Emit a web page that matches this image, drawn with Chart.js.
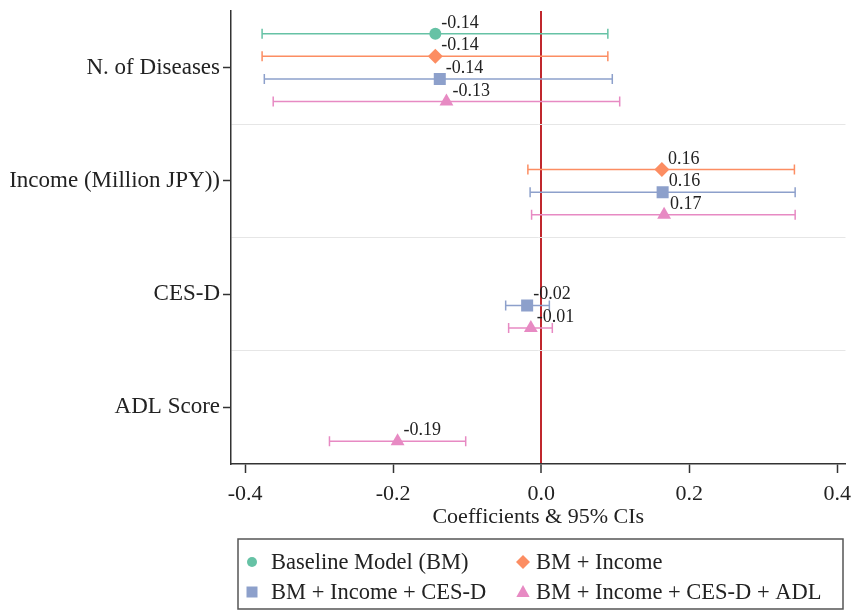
<!DOCTYPE html>
<html>
<head>
<meta charset="utf-8">
<script src="https://cdn.jsdelivr.net/npm/chart.js@4.4.1/dist/chart.umd.min.js"></script>
<style>
  html, body { margin: 0; padding: 0; background: #fff; }
  #wrap { width: 854px; height: 613px; position: relative; }
</style>
</head>
<body>
<div id="wrap"><canvas id="coef-chart"></canvas></div>
<script>
// variables on the y axis (top to bottom)
const variables = ['N. of Diseases', 'Income (Million JPY))', 'CES-D', 'ADL Score'];

// models
const modelNames = ['Baseline Model (BM)', 'BM + Income', 'BM + Income + CES-D', 'BM + Income + CES-D + ADL'];
const modelColors = ['#66c2a5', '#fc8d62', '#8da0cb', '#e78ac3'];
const modelMarkers = ['circle', 'rectRot', 'rect', 'triangle'];
const markerRadius = [6, 7.5, 8.5, 8];

// coefficients per model (null = variable not in model)
const coefBM     = [-0.143, null, null, null];
const coefIncome = [-0.143, 0.163, null, null];
const coefCesd   = [-0.137, 0.164, -0.019, null];
const coefAdl    = [-0.128, 0.166, -0.014, -0.194];

// 95% CI bounds
const lowBM      = [-0.377, null, null, null];
const highBM     = [0.090, null, null, null];
const lowIncome  = [-0.377, -0.018, null, null];
const highIncome = [0.090, 0.342, null, null];
const lowCesd    = [-0.374, -0.015, -0.048, null];
const highCesd   = [0.096, 0.343, 0.011, null];
const lowAdl     = [-0.362, -0.013, -0.044, -0.286];
const highAdl    = [0.106, 0.343, 0.015, -0.102];

const xTicks = [-0.4, -0.2, 0, 0.2, 0.4];
const yTickValues = [0, 0.5, 1, 1.5, 2, 2.5, 3]; // integers = variables, halves = dividers

const coefs = [coefBM, coefIncome, coefCesd, coefAdl];
const lows = [lowBM, lowIncome, lowCesd, lowAdl];
const highs = [highBM, highIncome, highCesd, highAdl];

const FONT = '"Liberation Serif", "Times New Roman", serif';
const TEXT = '#222';

// vertical slot of each model inside a variable's band
const slot = m => (m - 1.5) * 0.2;

const datasets = [];
modelNames.forEach((name, m) => {
    const pts = [];
    coefs[m].forEach((c, v) => {
        if (c === null) return;
        const y = v + slot(m);
        pts.push({ x: c, y: y });
        datasets.push({
            type: 'line',
            data: [{ x: lows[m][v], y: y }, { x: highs[m][v], y: y }],
            borderColor: modelColors[m],
            borderWidth: 1.5,
            pointStyle: 'line',
            pointRotation: 90,
            pointRadius: 5,
            pointBorderWidth: 1.5,
            pointBorderColor: modelColors[m],
            pointBackgroundColor: modelColors[m],
            order: 2
        });
    });
    datasets.push({
        type: 'scatter',
        label: name,
        isCoef: true,
        data: pts,
        pointStyle: modelMarkers[m],
        pointRadius: markerRadius[m],
        backgroundColor: modelColors[m],
        borderColor: modelColors[m],
        borderWidth: 0,
        order: 1
    });
});

// number labels next to each estimate
const valueLabels = {
    id: 'valueLabels',
    afterDatasetsDraw(chart) {
        const ctx = chart.ctx;
        ctx.save();
        ctx.font = '18px ' + FONT;
        ctx.fillStyle = TEXT;
        ctx.textAlign = 'left';
        ctx.textBaseline = 'alphabetic';
        chart.data.datasets.forEach((ds, i) => {
            if (!ds.isCoef) return;
            chart.getDatasetMeta(i).data.forEach((pt, j) => {
                ctx.fillText(ds.data[j].x.toFixed(2), pt.x + 6, pt.y - 6);
            });
        });
        ctx.restore();
    }
};

function drawMarker(ctx, style, x, y, r) {
    ctx.beginPath();
    if (style === 'circle') {
        ctx.arc(x, y, r, 0, Math.PI * 2);
    } else if (style === 'rectRot') {
        ctx.moveTo(x - r, y); ctx.lineTo(x, y - r); ctx.lineTo(x + r, y); ctx.lineTo(x, y + r);
    } else if (style === 'rect') {
        ctx.rect(x - r, y - r, 2 * r, 2 * r);
    } else {
        ctx.moveTo(x, y - r); ctx.lineTo(x + r * 0.95, y + r * 0.7); ctx.lineTo(x - r * 0.95, y + r * 0.7);
    }
    ctx.closePath();
    ctx.fill();
}

// boxed legend, two columns
const boxLegend = {
    id: 'boxLegend',
    afterDraw(chart) {
        const ctx = chart.ctx;
        const box = { left: 238, top: 539, right: 843, bottom: 609 };
        const rows = [562, 592];
        const marks = [252, 523];
        const texts = [271, 536];
        const legendR = [5, 7, 5.5, 7];
        ctx.save();
        ctx.strokeStyle = '#555';
        ctx.lineWidth = 1.5;
        ctx.strokeRect(box.left, box.top, box.right - box.left, box.bottom - box.top);
        ctx.font = '22.5px ' + FONT;
        ctx.textBaseline = 'middle';
        ctx.textAlign = 'left';
        modelNames.forEach((name, m) => {
            const col = m % 2, cy = rows[Math.floor(m / 2)];
            ctx.fillStyle = modelColors[m];
            drawMarker(ctx, modelMarkers[m], marks[col], cy, legendR[m]);
            ctx.fillStyle = TEXT;
            ctx.fillText(name, texts[col], cy + 1);
        });
        ctx.restore();
    }
};

const chart = new Chart(document.getElementById('coef-chart').getContext('2d'), {
    type: 'scatter',
    data: { datasets: datasets },
    options: {
        responsive: true,
        maintainAspectRatio: false,
        animation: false,
        events: [],
        layout: { padding: { left: 0, right: 7, top: 11, bottom: 0 } },
        plugins: {
            legend: { display: false },
            tooltip: { enabled: false }
        },
        scales: {
            x: {
                type: 'linear',
                min: -0.419,
                max: 0.411,
                z: 1,
                afterBuildTicks: scale => { scale.ticks = xTicks.map(v => ({ value: v })); },
                afterFit: scale => {
                    scale.height = 149;
                    scale.paddingLeft = 0;
                    scale.paddingRight = 0;
                },
                ticks: {
                    callback: v => v.toFixed(1),
                    font: { family: FONT, size: 22 },
                    color: TEXT,
                    padding: 8,
                    maxRotation: 0,
                    autoSkip: false
                },
                grid: {
                    color: c => (c.tick && c.tick.value === 0) ? '#c0272d' : 'rgba(0,0,0,0)',
                    lineWidth: c => (c.tick && c.tick.value === 0) ? 2 : 1,
                    tickColor: '#333',
                    tickWidth: 1.5,
                    tickLength: 9
                },
                border: { color: '#333', width: 1.5 },
                title: {
                    display: true,
                    text: 'Coefficients & 95% CIs',
                    font: { family: FONT, size: 22 },
                    color: TEXT,
                    padding: { top: 0, bottom: 83 }
                }
            },
            y: {
                type: 'linear',
                reverse: true,
                min: -0.5,
                max: 3.5,
                afterBuildTicks: scale => { scale.ticks = yTickValues.map(v => ({ value: v })); },
                afterFit: scale => {
                    scale.width = 231;
                    scale.paddingTop = 0;
                    scale.paddingBottom = 0;
                },
                ticks: {
                    callback: v => Number.isInteger(v) ? variables[v] : '',
                    font: { family: FONT, size: 23 },
                    color: TEXT,
                    padding: 3,
                    autoSkip: false
                },
                grid: {
                    color: c => Number.isInteger(c.tick.value) ? 'rgba(0,0,0,0)' : '#e6e6e6',
                    tickColor: c => Number.isInteger(c.tick.value) ? '#333' : 'rgba(0,0,0,0)',
                    lineWidth: 1,
                    tickWidth: 1.5,
                    tickLength: 8
                },
                border: { color: '#333', width: 1.5 }
            }
        }
    },
    plugins: [valueLabels, boxLegend]
});
</script>
</body>
</html>
